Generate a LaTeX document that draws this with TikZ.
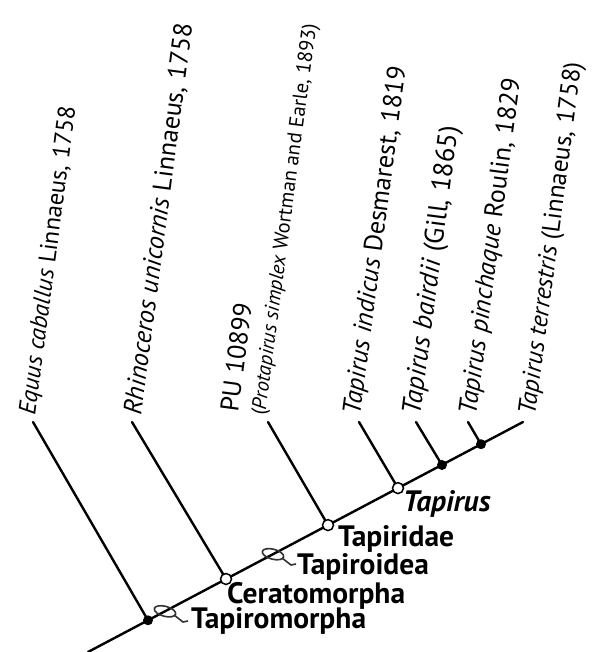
\documentclass[tikz,border=0pt]{standalone}
\usepackage{fontspec}
\setmainfont{PT Sans}
\tikzset{
  branch/.style={line width=2.4pt, line cap=round},
  opennode/.style={circle, draw=black, fill=white, line width=1.5pt, minimum size=11pt, inner sep=0pt},
  fullnode/.style={circle, fill=black, minimum size=10pt, inner sep=0pt},
  taxon/.style={rotate=82.5, anchor=base west, inner sep=0pt, font=\fontsize{#1}{29}\selectfont},
  taxon/.default=26,
  smalltaxon/.style={rotate=82.5, anchor=base west, inner sep=0pt, font=\fontsize{20.5}{24}\selectfont},
  clade/.style={anchor=base west, inner sep=0pt, font=\fontsize{29.5}{32}\selectfont\bfseries},
  stemmark/.style={draw=black!80, line width=1.6pt},
}
\begin{document}
\begin{tikzpicture}[x=1pt, y=-1pt]
\useasboundingbox (0,0) rectangle (591,652);
% spine
\coordinate (root) at (88,652);
\coordinate (nEq) at (148,620.3);
\coordinate (sTm) at (165,611.3);
\coordinate (nCe) at (226,579.0);
\coordinate (sTo) at (273,554.2);
\coordinate (nTd) at (328,525.1);
\coordinate (nTa) at (398,488.1);
\coordinate (nBa) at (442,465.0);
\coordinate (nPi) at (481,444.2);
\coordinate (tTe) at (523,422);
% branch tips
\coordinate (tEq) at (33,422);
\coordinate (tRh) at (132,422);
\coordinate (tPU) at (268,422);
\coordinate (tIn) at (359,422);
\coordinate (tBa) at (416,422);
\coordinate (tPi) at (468,422);

\draw[branch] (root) -- (tTe);
\draw[branch] (nEq) -- (tEq);
\draw[branch] (nCe) -- (tRh);
\draw[branch] (nTd) -- (tPU);
\draw[branch] (nTa) -- (tIn);
\draw[branch] (nBa) -- (tBa);
\draw[branch] (nPi) -- (tPi);

% node markers
\node[fullnode] (mEq) at (nEq) {};
\node[opennode] (mCe) at (nCe) {};
\node[opennode] (mTd) at (nTd) {};
\node[opennode] (mTa) at (nTa) {};
\node[fullnode] (mBa) at (nBa) {};
\node[fullnode] (mPi) at (nPi) {};

% stem-based markers
\draw[stemmark] (sTm) ellipse [x radius=11pt, y radius=5pt, rotate=-15];
\draw[stemmark] (sTo) ellipse [x radius=11pt, y radius=5pt, rotate=-15];

% clade labels
\node[clade] (lTm) at (191,628) {Tapiromorpha};
\node[clade] (lCe) at (227,603) {Ceratomorpha};
\node[clade] (lTo) at (297,574) {Tapiroidea};
\node[clade] (lTd) at (338,546) {Tapiridae};
\node[clade] (lTa) at (403,511) {\itshape Tapirus};

\coordinate (kTm) at (174,615);
\coordinate (kTo) at (282,558);
\draw[stemmark] (kTm) -- ++(9,7) -- ++(5,-1);
\draw[stemmark] (kTo) -- ++(9,7) -- ++(5,-1);

% taxon labels
\node[taxon=24.3] (xEq) at (35,416) {\textit{Equus caballus} Linnaeus, 1758};
\node[taxon=26] (xRh) at (141,416) {\textit{Rhinoceros unicornis} Linnaeus, 1758};
\node[taxon=26] (xPU) at (238,413) {PU 10899};
\node[smalltaxon] (xPr) at (265,416) {(\textit{Protapirus simplex} Wortman and Earle, 1893)};
\node[taxon=26] (xIn) at (360,416) {\textit{Tapirus indicus} Desmarest, 1819};
\node[taxon=27] (xBa) at (420,416) {\textit{Tapirus bairdii} (Gill, 1865)};
\node[taxon=26] (xPi) at (476,416) {\textit{Tapirus pinchaque} Roulin, 1829};
\node[taxon=25.2] (xTe) at (535,416) {\textit{Tapirus terrestris} (Linnaeus, 1758)};
\end{tikzpicture}
\end{document}
